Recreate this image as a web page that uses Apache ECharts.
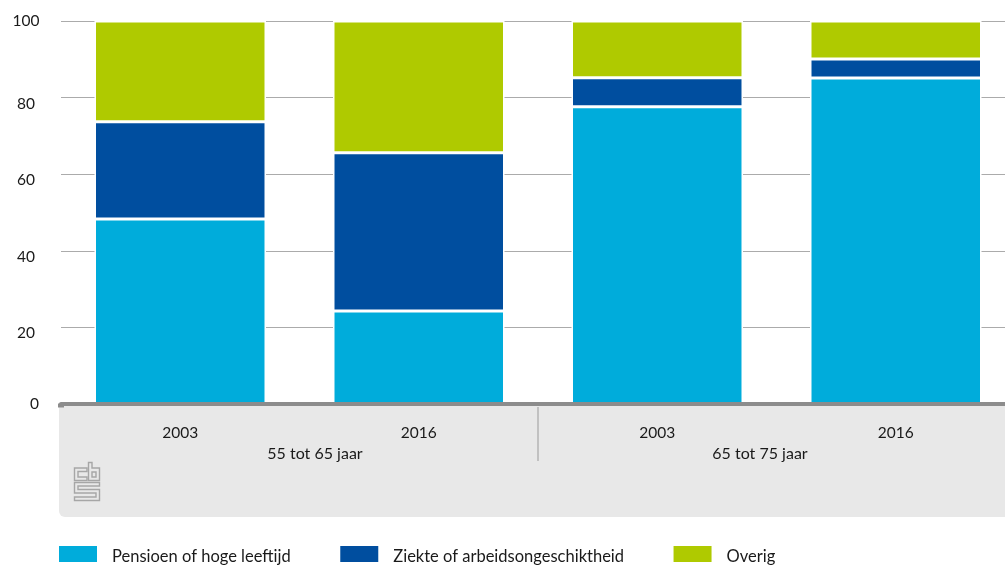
<!DOCTYPE html>
<html><head><meta charset="utf-8">
<style>html,body{margin:0;padding:0;background:#fff;overflow:hidden}#c{width:1015px;height:565px}</style>
<script src="https://cdn.jsdelivr.net/npm/echarts@6/dist/echarts.min.js"></script>
</head><body><div id="c"></div>
<script>
const categories = ['2003', '2016', '2003', '2016'];
const groupLabels = ['55 tot 65 jaar', '65 tot 75 jaar'];
const yTicks = [0, 20, 40, 60, 80, 100];
const pensioen = [48.3, 24.3, 77.6, 85.1];
const ziekte = [25.4, 41.3, 7.6, 5];
const overig = [26.3, 34.4, 14.8, 9.9];
const names = ['Pensioen of hoge leeftijd', 'Ziekte of arbeidsongeschiktheid', 'Overig'];
const colors = ['#00acdb', '#004e9f', '#afca00'];
const FONT = 'Lato, sans-serif';
const FS = 15.5;
const TXT = '#1a1a1a';

const chart = echarts.init(document.getElementById('c'), null, {renderer: 'canvas'});
const mk = (i, d) => ({
  name: names[i], type: 'bar', stack: 't', data: d, barWidth: 171.5, z: 3,
  itemStyle: {color: colors[i], borderColor: '#fff', borderWidth: 1.5},
  emphasis: {disabled: true}
});
const logo = (pts) => ({type: 'polygon', z: 1, silent: true, shape: {points: pts},
  style: {stroke: '#a6a6a6', lineWidth: 1.4, fill: 'none'}});
chart.setOption({
  animation: false,
  textStyle: {fontFamily: FONT},
  grid: {left: 61, right: 0, top: 21, bottom: 161, containLabel: false},
  legend: {
    left: 59, top: 546, padding: 0, itemWidth: 38, itemHeight: 16, itemGap: 49.5, icon: 'rect',
    data: names, selectedMode: false,
    formatter: n => '{t|' + n + '}',
    textStyle: {fontFamily: FONT, fontSize: 16.5, color: TXT,
      rich: {t: {fontFamily: FONT, fontSize: 16.5, color: TXT, padding: [6, 0, 0, 10]}}},
    itemStyle: {borderWidth: 0}
  },
  xAxis: {
    type: 'category', data: categories, offset: 1.5, z: 5,
    axisLine: {lineStyle: {color: '#8c8c8c', width: 4}}, axisTick: {show: false},
    axisLabel: {fontFamily: FONT, fontSize: FS, color: TXT, margin: 19, interval: 0}
  },
  yAxis: {
    type: 'value', min: 0, max: 100, interval: 20,
    axisLine: {show: false}, axisTick: {show: false},
    splitLine: {lineStyle: {color: '#ababab', width: 1}},
    axisLabel: {
      fontFamily: FONT, fontSize: FS, color: TXT, align: 'center', margin: 35,
      formatter: v => (v === yTicks[0] ? '{z|' + v + '}' : (v === yTicks[5] ? String(v) : '{d|' + v + '}')),
      rich: {
        z: {fontFamily: FONT, fontSize: FS, color: TXT, padding: [0, 0, 0, 17]},
        d: {fontFamily: FONT, fontSize: FS, color: TXT, padding: [12, 0, 0, 0]}
      }
    }
  },
  series: [mk(0, pensioen), mk(1, ziekte), mk(2, overig)],
  graphic: [
    {type: 'rect', z: 0, silent: true, shape: {x: 59, y: 406, width: 960, height: 111, r: [0, 0, 0, 6]}, style: {fill: '#e8e8e8'}},
    {type: 'rect', z: 5, silent: true, shape: {x: 58, y: 403.5, width: 6, height: 4}, style: {fill: '#8c8c8c'}},
    {type: 'rect', z: 1, silent: true, shape: {x: 537.5, y: 407, width: 1, height: 54}, style: {fill: '#999'}},
    {type: 'text', z: 5, silent: true, style: {x: 315, y: 454, text: groupLabels[0], align: 'center', verticalAlign: 'middle', font: '16px ' + FONT, fill: TXT}},
    {type: 'text', z: 5, silent: true, style: {x: 760, y: 454, text: groupLabels[1], align: 'center', verticalAlign: 'middle', font: '16px ' + FONT, fill: TXT}},
    logo([[74.5,468],[87,468],[87,471.5],[78,471.5],[78,477],[87,477],[87,480.5],[74.5,480.5]]),
    logo([[88.5,462.5],[92,462.5],[92,468],[99.5,468],[99.5,480.5],[88.5,480.5]]),
    logo([[92,472],[96,472],[96,477],[92,477]]),
    logo([[74.5,482.5],[99.5,482.5],[99.5,486],[78,486],[78,489.5],[99.5,489.5],[99.5,500.5],[74.5,500.5],[74.5,497],[96,497],[96,493],[74.5,493]])
  ]
});
</script></body></html>
